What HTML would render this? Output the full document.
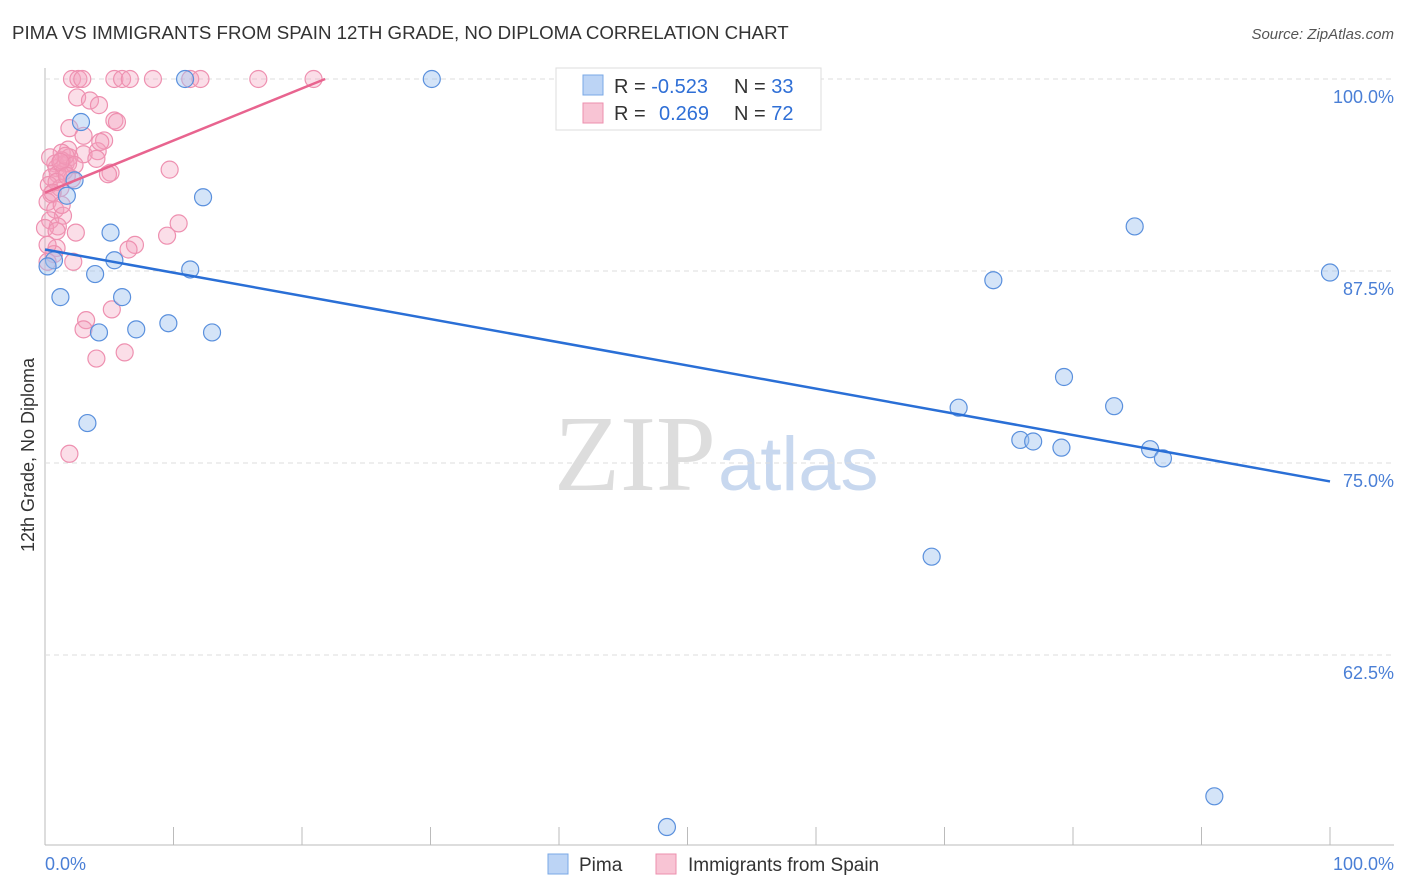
<!DOCTYPE html>
<html><head><meta charset="utf-8"><style>
body{margin:0;background:#fff;font-family:"Liberation Sans",sans-serif}
#c{position:absolute;left:0;top:0}
</style></head><body>
<svg id="c" width="1406" height="892" xmlns="http://www.w3.org/2000/svg">
<text x="12" y="39" font-size="18.7" fill="#333">PIMA VS IMMIGRANTS FROM SPAIN 12TH GRADE, NO DIPLOMA CORRELATION CHART</text>
<text x="1394" y="39" font-size="15" fill="#555" font-style="italic" text-anchor="end">Source: ZipAtlas.com</text>
<text x="716" y="490" font-size="108" fill="#ddd" text-anchor="end" font-family="Liberation Serif">ZIP</text>
<text x="718" y="490" font-size="76" fill="#c8d8ef">atlas</text>
<g id="grid"></g><g id="pts"></g><g id="lines"></g>
<text transform="translate(34,455) rotate(-90)" font-size="18" fill="#333" text-anchor="middle">12th Grade, No Diploma</text>
<g>
<rect x="556" y="68" width="265" height="62" fill="#fff" stroke="#ddd"/>
<rect x="583" y="75" width="20" height="20" fill="#bcd4f5" stroke="#7aa8e6"/>
<rect x="583" y="103" width="20" height="20" fill="#f8c4d4" stroke="#ec8fae"/>
<text x="614" y="93" font-size="20" fill="#333">R = <tspan fill="#2f6fd6">-0.523</tspan></text>
<text x="734" y="93" font-size="20" fill="#333">N = <tspan fill="#2f6fd6">33</tspan></text>
<text x="614" y="120" font-size="20" fill="#333">R = <tspan fill="#2f6fd6" x="659">0.269</tspan></text>
<text x="734" y="120" font-size="20" fill="#333">N = <tspan fill="#2f6fd6">72</tspan></text>
</g>
<g>
<rect x="548" y="854" width="20" height="20" fill="#bcd4f5" stroke="#7aa8e6"/>
<text x="579" y="871" font-size="19" fill="#333">Pima</text>
<rect x="656" y="854" width="20" height="20" fill="#f8c4d4" stroke="#ec8fae"/>
<text x="688" y="871" font-size="19" fill="#333">Immigrants from Spain</text>
</g>
<text x="45" y="870" font-size="18" fill="#4a7fd6">0.0%</text>
<text x="1394" y="870" font-size="18" fill="#4a7fd6" text-anchor="end">100.0%</text>
</svg>
<script>
const yTicks=[100,87.5,75,62.5];
const yTickLabels=["100.0%","87.5%","75.0%","62.5%"];
const pimaX=[10.9,30.1,2.8,2.3,1.7,12.3,5.1,5.4,0.7,0.2,3.9,11.3,1.2,6.0,7.1,9.6,13.0,4.2,3.3,84.8,73.8,100,79.3,71.1,83.2,75.9,76.9,79.1,86.0,87.0,69.0,91.0,48.4];
const pimaY=[100,100,97.2,93.4,92.4,92.3,90.0,88.2,88.2,87.8,87.3,87.6,85.8,85.8,83.7,84.1,83.5,83.5,77.6,90.4,86.9,87.4,80.6,78.6,78.7,76.5,76.4,76.0,75.9,75.3,68.9,53.3,51.3];
const spainX=[2.1,2.6,2.9,5.4,6.0,6.6,8.4,11.3,12.1,16.6,20.9,2.5,3.5,4.2,5.4,5.6,1.9,3.0,4.6,1.8,1.3,4.1,3.0,1.9,0.8,1.6,5.1,9.7,4.9,0.9,1.8,1.5,1.0,0.5,2.1,0.3,1.2,0.5,0.2,0.8,1.4,0.4,1.0,0.0,2.4,10.4,9.5,7.0,6.5,0.9,0.7,2.2,0.2,5.2,3.2,3.0,6.2,4.0,1.9,1.3,1.6,2.3,0.4,0.9,4.3,4.0,1.2,1.7,0.6,0.9,0.2,1.3];
const spainY=[100,100,100,100,100,100,100,100,100,100,100,98.8,98.6,98.3,97.3,97.2,96.8,96.3,96.0,95.4,95.2,95.3,95.1,94.9,94.5,94.5,93.9,94.1,93.8,94.2,94.5,94.0,93.8,93.6,93.5,93.1,92.9,92.5,92.0,91.5,91.1,90.8,90.4,90.3,90.0,90.6,89.8,89.2,88.9,89.0,88.6,88.1,88.1,85.0,84.3,83.7,82.2,81.8,75.6,94.7,95.0,94.4,94.9,93.3,95.9,94.8,94.6,93.7,92.6,90.1,89.2,91.8];
const trendX=[0,100];
const pimaTrend=[88.9,73.8];
const spainTrend=[92.6,100];
const spainTrendX=[0,21.8];
const X=v=>45+v*12.85, Y=v=>79+(100-v)*15.36;
const NS="http://www.w3.org/2000/svg";
function mk(t,a,p){const e=document.createElementNS(NS,t);for(const k in a)e.setAttribute(k,a[k]);p.appendChild(e);return e;}
const g=document.getElementById('grid');
mk('line',{x1:45,y1:68,x2:45,y2:845,stroke:'#bbb'},g);
mk('line',{x1:45,y1:845,x2:1394,y2:845,stroke:'#bbb'},g);
for(let i=0;i<=10;i++){const l=mk('line',{x1:45+i*128.5,y1:827,x2:45+i*128.5,y2:845,stroke:'#bbb'},g);

}
yTicks.forEach((t,i)=>{
const l=mk('line',{x1:45,y1:Y(t),x2:1394,y2:Y(t),stroke:'#ddd','stroke-dasharray':'5,4'},g);


const tx=mk('text',{x:1394,y:Y(t)+24,'font-size':18,fill:'#4a7fd6','text-anchor':'end'},g);
tx.textContent=yTickLabels[i];


});
const p=document.getElementById('pts');
spainX.forEach((x,i)=>{const c=mk('circle',{cx:X(x),cy:Y(spainY[i]),r:8.5,fill:'rgba(244,160,188,0.35)',stroke:'#ee90b0','stroke-width':1.2},p);

});
pimaX.forEach((x,i)=>{const c=mk('circle',{cx:X(x),cy:Y(pimaY[i]),r:8.5,fill:'rgba(160,195,240,0.45)',stroke:'#5a90dd','stroke-width':1.2},p);

});
const L=document.getElementById('lines');
const a=mk('line',{x1:X(trendX[0]),y1:Y(pimaTrend[0]),x2:X(trendX[1]),y2:Y(pimaTrend[1]),stroke:'#2a6fd6','stroke-width':2.5},L);


const b=mk('line',{x1:X(spainTrendX[0]),y1:Y(spainTrend[0]),x2:X(spainTrendX[1]),y2:Y(spainTrend[1]),stroke:'#e8648f','stroke-width':2.5},L);


</script>
</body></html>
